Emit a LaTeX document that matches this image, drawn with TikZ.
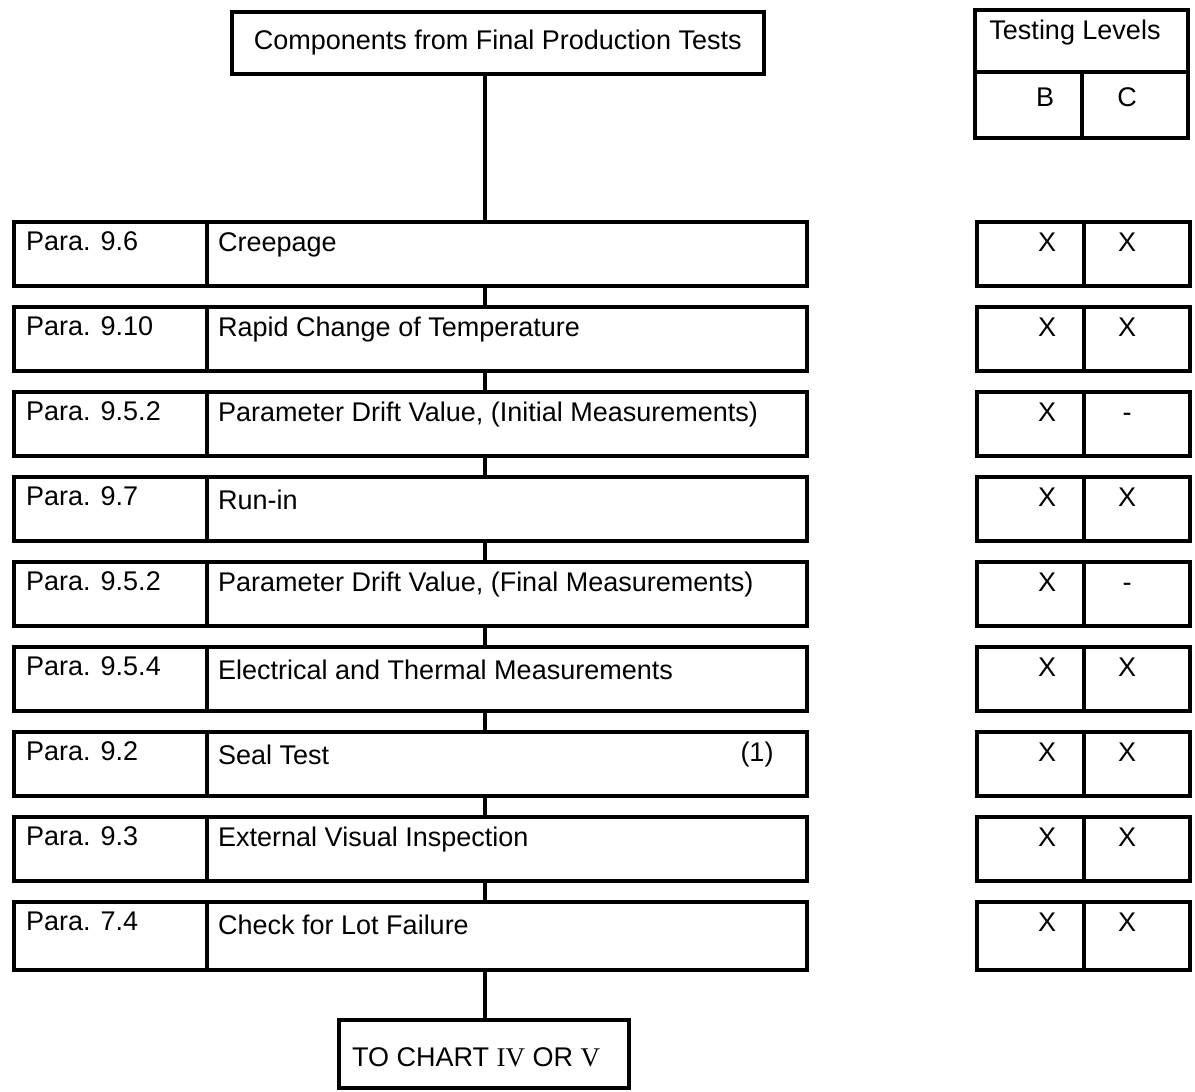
\documentclass[tikz,border=0pt]{standalone}
\usepackage{fontspec}
\setmainfont{Liberation Sans}
\newfontfamily\romfont{Liberation Serif}
\usetikzlibrary{calc}
\tikzset{
  box/.style={draw, line width=3.5pt, rectangle, inner sep=0pt, anchor=north west},
  lab/.style={anchor=west, inner sep=0pt, font=\fontsize{27}{30}\selectfont},
  mid/.style={anchor=center, inner sep=0pt, font=\fontsize{27}{30}\selectfont},
  levelmark/.style={anchor=base, inner sep=0pt, font=\fontsize{27}{30}\selectfont}
}
\tikzset{conn/.style={line width=4pt}}
\newcommand\testrow[7]{%
  \node[box, minimum width=193pt, minimum height=#7] (#1p) at (12,#2) {};
  \node[box, minimum width=600pt, minimum height=#7] (#1t) at (205,#2) {};
  \node[box, minimum width=107pt, minimum height=#7] (#1b) at (975,#2) {};
  \node[box, minimum width=106pt, minimum height=#7] (#1c) at (1082,#2) {};
  \node[lab] (#1pl) at ($(#1p.north west)+(14,21)$) {#3};
  \node[lab] (#1tl) at ($(#1t.north west)+(13,25)$) {#4};
  \node[levelmark] (#1bl) at ($(#1b.north west)+(72,31)$) {#5};
  \node[levelmark] (#1cl) at ($(#1c.north west)+(45,31)$) {#6};
}
\begin{document}
\begin{tikzpicture}[x=1pt,y=-1pt]
\useasboundingbox (0,0) rectangle (1195,1092);
% top box
\node[box, minimum width=532pt, minimum height=62pt] (top) at (230,10) {};
\node[mid] (toplab) at ($(top.center)$) {Components from Final Production Tests};
% testing levels
\node[box, minimum width=213pt, minimum height=62pt] (tl) at (973,8) {};
\node[box, minimum width=107pt, minimum height=66pt] (tlb) at (973,70) {};
\node[box, minimum width=106pt, minimum height=66pt] (tlc) at (1080,70) {};
\node[mid] (tllab) at (1075,33) {Testing Levels};
\node[mid] (tlblab) at (1045,97) {B};
\node[mid] (tlclab) at (1127,97) {C};
% rows
\testrow{r1}{220}{Para. 9.6}{Creepage}{X}{X}{64pt}
\testrow{r2}{305}{Para. 9.10}{Rapid Change of Temperature}{X}{X}{64pt}
\testrow{r3}{390}{Para. 9.5.2}{Parameter Drift Value, (Initial Measurements)}{X}{-}{64pt}
\testrow{r4}{475}{Para. 9.7}{Run-in}{X}{X}{64pt}
\testrow{r5}{560}{Para. 9.5.2}{Parameter Drift Value, (Final Measurements)}{X}{-}{64pt}
\testrow{r6}{645}{Para. 9.5.4}{Electrical and Thermal Measurements}{X}{X}{64pt}
\testrow{r7}{730}{Para. 9.2}{Seal Test}{X}{X}{64pt}
\testrow{r8}{815}{Para. 9.3}{External Visual Inspection}{X}{X}{64pt}
\testrow{r9}{900}{Para. 7.4}{Check for Lot Failure}{X}{X}{68pt}
\node[mid] (seal1) at (757,755) {(1)};
% bottom box
\node[box, minimum width=290pt, minimum height=68pt] (bot) at (337,1018) {};
\node[lab] (botlab) at (352,1057) {TO CHART {\romfont IV} OR {\romfont V}};
% connectors
\coordinate (cx) at (485,0);
\draw[conn] (cx |- top.south) -- (cx |- r1t.north);
\draw[conn] (cx |- r1t.south) -- (cx |- r2t.north);
\draw[conn] (cx |- r2t.south) -- (cx |- r3t.north);
\draw[conn] (cx |- r3t.south) -- (cx |- r4t.north);
\draw[conn] (cx |- r4t.south) -- (cx |- r5t.north);
\draw[conn] (cx |- r5t.south) -- (cx |- r6t.north);
\draw[conn] (cx |- r6t.south) -- (cx |- r7t.north);
\draw[conn] (cx |- r7t.south) -- (cx |- r8t.north);
\draw[conn] (cx |- r8t.south) -- (cx |- r9t.north);
\draw[conn] (cx |- r9t.south) -- (cx |- bot.north);
\end{tikzpicture}
\end{document}
